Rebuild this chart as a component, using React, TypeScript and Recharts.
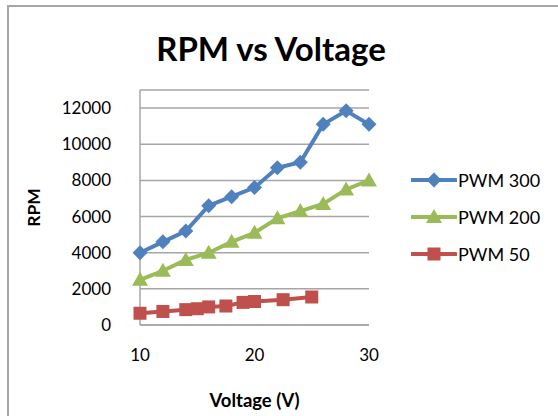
import React from "react";
import { LineChart, Line, XAxis, YAxis, CartesianGrid } from "recharts";

const pwm300Volts = [10, 12, 14, 16, 18, 20, 22, 24, 26, 28, 30];
const pwm300Rpm = [4000, 4600, 5200, 6600, 7100, 7600, 8700, 9000, 11100, 11850, 11100];

const pwm200Volts = [10, 12, 14, 16, 18, 20, 22, 24, 26, 28, 30];
const pwm200Rpm = [2500, 3000, 3600, 4000, 4600, 5100, 5900, 6300, 6700, 7500, 8000];

const pwm50Volts = [10, 12, 14, 15, 16, 17.5, 19, 20, 22.5, 25];
const pwm50Rpm = [650, 750, 850, 900, 1000, 1050, 1250, 1300, 1400, 1550];

const xTicks = [10, 20, 30];
const yTicks = [0, 2000, 4000, 6000, 8000, 10000, 12000];

const FONT = "Lato, 'Open Sans', sans-serif";

const zip = (xs: number[], ys: number[]) => xs.map((v, i) => ({ v, rpm: ys[i] }));

const series = [
	{ name: "PWM 300", color: "#4F81BD", shape: "diamond", data: zip(pwm300Volts, pwm300Rpm) },
	{ name: "PWM 200", color: "#9BBB59", shape: "triangle", data: zip(pwm200Volts, pwm200Rpm) },
	{ name: "PWM 50", color: "#C0504D", shape: "square", data: zip(pwm50Volts, pwm50Rpm) },
];

function Marker({ cx, cy, shape, color }: any) {
	if (cx == null || cy == null) return null;
	if (shape === "diamond") {
		const r = 7.5;
		return <polygon points={`${cx},${cy - r} ${cx + r},${cy} ${cx},${cy + r} ${cx - r},${cy}`} fill={color} />;
	}
	if (shape === "triangle") {
		const r = 8;
		return <polygon points={`${cx},${cy - r} ${cx + r},${cy + r * 0.75} ${cx - r},${cy + r * 0.75}`} fill={color} />;
	}
	const s = 6.5;
	return <rect x={cx - s} y={cy - s} width={s * 2} height={s * 2} fill={color} />;
}

// legend drawn in html, Excel style: line with marker in the middle
function LegendBox() {
	return (
		<div style={{ fontFamily: FONT, fontSize: 18, color: "#000" }}>
			{series.map((s) => (
				<div key={s.name} style={{ display: "flex", alignItems: "center", height: 36.7 }}>
					<svg width={46} height={20}>
						<line x1={1} y1={10} x2={45} y2={10} stroke={s.color} strokeWidth={4} strokeLinecap="round" />
						<Marker cx={23} cy={10} shape={s.shape} color={s.color} />
					</svg>
					<span style={{ marginLeft: 1 }}>{s.name}</span>
				</div>
			))}
		</div>
	);
}

export default function App() {
	return (
		<div style={{ position: "absolute", left: 0, top: 0, width: 558, height: 416, background: "#fff", overflow: "hidden" }}>
			<div
				style={{
					position: "absolute",
					left: 7,
					top: 5,
					width: 600,
					height: 500,
					borderLeft: "2px solid #a6a6a6",
					borderTop: "2px solid #a6a6a6",
				}}
			/>
			<div
				style={{
					position: "absolute",
					left: 0,
					width: 542,
					top: 28,
					textAlign: "center",
					fontFamily: FONT,
					fontWeight: 700,
					fontSize: 33,
					color: "#000",
				}}
			>
				RPM vs Voltage
			</div>
			<div style={{ position: "absolute", left: 0, top: 0 }}>
				<LineChart width={558} height={416} margin={{ top: 90, right: 189, bottom: 61, left: 60 }}>
					<CartesianGrid vertical={false} stroke="#a6a6a6" strokeWidth={1.5} />
					<XAxis
						type="number"
						dataKey="v"
						height={30}
						domain={[10, 30]}
						ticks={xTicks}
						allowDuplicatedCategory={false}
						stroke="#a6a6a6"
						strokeWidth={1.5}
						tickLine={false}
						tickSize={0}
						tickMargin={24}
						tick={{ fill: "#000", fontSize: 17, fontFamily: FONT }}
						label={{
							value: "Voltage (V)",
							position: "insideBottom",
							offset: -52,
							style: { fill: "#000", fontSize: 18.5, fontWeight: 700, fontFamily: FONT },
						}}
					/>
					<YAxis
						type="number"
						dataKey="rpm"
						width={80}
						domain={[0, 13000]}
						ticks={yTicks}
						stroke="#a6a6a6"
						strokeWidth={1.5}
						tickLine={false}
						tickSize={0}
						tickMargin={29}
						tick={{ fill: "#000", fontSize: 17, fontFamily: FONT }}
						label={{
							value: "RPM",
							angle: -90,
							position: "insideLeft",
							offset: -26,
							style: { fill: "#000", fontSize: 17.5, fontWeight: 700, fontFamily: FONT, textAnchor: "middle" },
						}}
					/>
					{series.map((s) => (
						<Line
							key={s.name}
							data={s.data}
							dataKey="rpm"
							name={s.name}
							stroke={s.color}
							strokeWidth={4}
							dot={(p: any) => <Marker key={`${s.name}-${p.index}`} cx={p.cx} cy={p.cy} shape={s.shape} color={s.color} />}
							activeDot={false}
							isAnimationActive={false}
						/>
					))}
				</LineChart>
			</div>
			<div style={{ position: "absolute", left: 411, top: 162 }}>
				<LegendBox />
			</div>
		</div>
	);
}
